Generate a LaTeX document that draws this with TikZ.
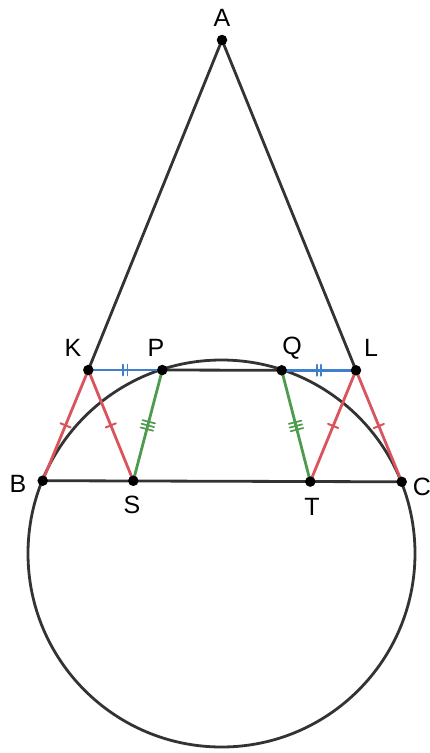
\documentclass[tikz,border=0pt]{standalone}
\usepackage{fontspec}
\setmainfont{Liberation Sans}
\usetikzlibrary{decorations.markings}
\definecolor{dk}{HTML}{333333}
\definecolor{rd}{HTML}{D9545C}
\definecolor{bl}{HTML}{3F7FCC}
\definecolor{gr}{HTML}{4E9A4E}
\tikzset{
  x=1pt, y=-1pt,
  seg/.style={line width=2.8pt, line cap=round},
  tickone/.style={postaction={decorate,decoration={markings,
    mark=at position 0.5 with {\draw[#1,line width=2pt] (0,-5.5pt)--(0,5.5pt);}}}},
  ticktwo/.style={postaction={decorate,decoration={markings,
    mark=at position 0.5 with {\draw[#1,line width=1.8pt] (-2.2pt,-5.5pt)--(-2.2pt,5.5pt) (2.2pt,-5.5pt)--(2.2pt,5.5pt);}}}},
  tickthree/.style={postaction={decorate,decoration={markings,
    mark=at position 0.5 with {\draw[#1,line width=1.7pt] (-3.8pt,-6.5pt)--(-3.8pt,6.5pt) (0pt,-6.5pt)--(0pt,6.5pt) (3.8pt,-6.5pt)--(3.8pt,6.5pt);}}}},
  dot/.style={circle, fill=black, inner sep=0pt, minimum size=10.5pt},
  lab/.style={font=\fontsize{25}{25}\selectfont, text=black, inner sep=0pt}
}
\begin{document}
\begin{tikzpicture}
\useasboundingbox (0,0) rectangle (429,753);
\fill[white] (0,0) rectangle (429,753);
\coordinate (A) at (222,40);
\coordinate (K) at (88.3,370);
\coordinate (P) at (162.3,370);
\coordinate (Q) at (281.7,370.3);
\coordinate (L) at (356,370.3);
\coordinate (B) at (42.7,480.7);
\coordinate (S) at (133.3,480.8);
\coordinate (T) at (310.3,481.6);
\coordinate (C) at (401.7,481.8);
\coordinate (O) at (221.5,553.5);
% circle
\draw[dk, line width=2.8pt] (O) circle[radius=193.5pt];
% black segments
\draw[seg, dk] (A) -- (K);
\draw[seg, dk] (A) -- (L);
\draw[seg, dk] (P) -- (Q);
\draw[seg, dk] (B) -- (C);
% red
\draw[seg, rd, tickone=rd] (K) -- (B);
\draw[seg, rd, tickone=rd] (K) -- (S);
\draw[seg, rd, tickone=rd] (L) -- (T);
\draw[seg, rd, tickone=rd] (L) -- (C);
% blue
\draw[seg, bl, ticktwo=bl] (K) -- (P);
\draw[seg, bl, ticktwo=bl] (Q) -- (L);
% green
\draw[seg, gr, tickthree=gr] (P) -- (S);
\draw[seg, gr, tickthree=gr] (Q) -- (T);
% points
\foreach \p in {A,K,P,Q,L,B,S,T,C} \node[dot] at (\p) {};
% labels
\node[lab] (lA) at (222,18) {A};
\node[lab] (lK) at (73,348) {K};
\node[lab] (lP) at (156,348) {P};
\node[lab] (lQ) at (292,348) {Q};
\node[lab] (lL) at (371,348) {L};
\node[lab] (lB) at (18,484) {B};
\node[lab] (lS) at (132,505) {S};
\node[lab] (lT) at (312,507) {T};
\node[lab] (lC) at (422,487) {C};
\end{tikzpicture}
\end{document}
